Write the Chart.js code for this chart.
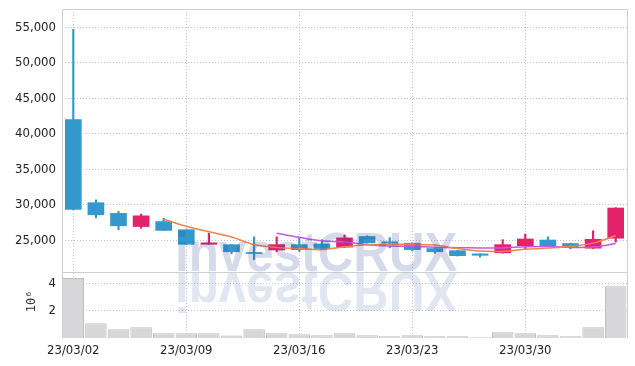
<!DOCTYPE html>
<html><head><meta charset="utf-8">
<script src="https://cdn.jsdelivr.net/npm/chart.js@4"></script>
<style>html,body{margin:0;padding:0;background:#fff}#wrap{width:635px;height:366px}</style>
</head><body><div id="wrap"><canvas id="c" width="635" height="366"></canvas></div>
<script>
const dates = ['23/03/02','23/03/03','23/03/06','23/03/07','23/03/08','23/03/09','23/03/10','23/03/13','23/03/14','23/03/15','23/03/16','23/03/17','23/03/20','23/03/21','23/03/22','23/03/23','23/03/24','23/03/27','23/03/28','23/03/29','23/03/30','23/03/31','23/04/03','23/04/04','23/04/05'];
const openP  = [42000,30300,28800,26950,27650,26500,24450,24400,23300,23650,24400,24500,24050,25550,24800,24600,23850,23550,23100,23250,24250,25050,24550,23900,25300];
const highP  = [54700,30700,29100,28700,28100,26500,26000,24400,25500,25500,25350,25100,25750,25650,25400,24650,23900,23600,23100,25100,25900,25500,24600,26350,29600];
const lowP   = [29300,28150,26500,26700,26400,24400,24450,23100,22300,23400,23450,23800,24000,24600,23950,23500,23150,22800,22650,23200,23800,24200,23800,23850,24750];
const closeP = [29350,28600,27050,28450,26400,24450,24650,23400,23150,24400,23700,23850,25350,24650,24600,23700,23400,22850,22900,24400,25200,24200,24100,25150,29550];
const volume = [4400000,1080000,640000,780000,340000,340000,340000,180000,640000,340000,270000,200000,340000,200000,120000,200000,120000,120000,50000,420000,340000,200000,120000,780000,3790000];
const ma5  = [null,null,null,null,27970,26990,26200,25470,24410,24010,23860,23700,24090,24390,24430,24430,24340,23840,23490,23450,23750,23910,24160,24610,25640];
const ma10 = [null,null,null,null,null,null,null,null,null,25990,25425,24950,24780,24400,24220,24145,24020,23965,23940,23940,24090,24125,24000,24050,24545];
const priceTicks = [25000,30000,35000,40000,45000,50000,55000];
const volTicks = [2000000,4000000];
const dateTicks = ['23/03/02','23/03/09','23/03/16','23/03/23','23/03/30'];

const UP = '#e3226c', DOWN = '#3399cc';
const dirColors = closeP.map((c,i)=> c >= openP[i] ? UP : DOWN);
const tickFont = {family:"'DejaVu Sans Condensed','Liberation Sans Narrow','DejaVu Sans',sans-serif", size:13};
const gridCol = 'rgba(185,188,215,0.9)';

const frame = {
  id:'frame',
  beforeDatasetsDraw(chart){
    const {ctx, chartArea:a} = chart;
    const yv = chart.scales.yVol;
    ctx.save();
    ctx.strokeStyle = '#cfcfcf';
    ctx.lineWidth = 1;
    ctx.beginPath();
    ctx.moveTo(Math.round(a.left)+0.5, Math.round(a.bottom)+0.5);
    ctx.lineTo(Math.round(a.left)+0.5, Math.round(a.top)+0.5);
    ctx.lineTo(Math.round(a.right)+0.5, Math.round(a.top)+0.5);
    ctx.lineTo(Math.round(a.right)+0.5, Math.round(a.bottom)+0.5);
    ctx.moveTo(a.left, Math.round(yv.top)+0.5);
    ctx.lineTo(a.right, Math.round(yv.top)+0.5);
    ctx.stroke();
    ctx.restore();
  }
};
const watermark = {
  id:'wm',
  afterDatasetsDraw(chart){
    const {ctx, chartArea:a} = chart;
    const w = a.right - a.left;
    const base = chart.scales.y.bottom - 1;
    const xL = a.left + 0.2*w;
    const txt = 'investCRUX';
    ctx.save();
    ctx.font = 'bold 56px "Liberation Sans", Arial, sans-serif';
    ctx.textBaseline = 'alphabetic';
    const m = ctx.measureText(txt);
    ctx.translate(xL, base);
    ctx.scale((0.5*w)/m.width, 1);
    ctx.fillStyle = 'rgba(30,60,150,0.19)';
    ctx.fillText(txt, 0, 0);
    ctx.scale(1, -1);
    ctx.fillStyle = 'rgba(30,60,150,0.13)';
    ctx.fillText(txt, 0, -2);
    ctx.restore();
  }
};

new Chart(document.getElementById('c'), {
  type:'bar',
  data:{
    labels: dates,
    datasets:[
      {type:'line', data:ma5, yAxisID:'y', borderColor:'#f0834a', borderWidth:1.5, pointRadius:0, tension:0.35, fill:false},
      {type:'line', data:ma10, yAxisID:'y', borderColor:'#c955e8', borderWidth:1.5, pointRadius:0, tension:0.35, fill:false},
      {data: dates.map((d,i)=>[openP[i], closeP[i]]), yAxisID:'y', backgroundColor:dirColors, barThickness:16, grouped:false, borderWidth:0},
      {data: dates.map((d,i)=>[lowP[i], highP[i]]), yAxisID:'y', backgroundColor:dirColors, barThickness:1.5, grouped:false, borderWidth:0},
      {data: volume, yAxisID:'yVol', backgroundColor:'#d7d7d9', borderColor:'#bdbdbd', borderWidth:1, barPercentage:1, categoryPercentage:0.95, grouped:false}
    ]
  },
  options:{
    responsive:false, animation:false, devicePixelRatio:1,
    layout:{padding:{top:9, right:8, left:0, bottom:0}},
    plugins:{legend:{display:false}, tooltip:{enabled:false}},
    scales:{
      x:{
        type:'category', offset:true,
        grid:{offset:false, color:gridCol, drawTicks:false},
        border:{display:false, dash:[1,2]},
        ticks:{autoSkip:false, maxRotation:0, padding:5, font:tickFont, color:'#222',
          callback(v){ const l = this.getLabelForValue(v); return dateTicks.includes(l) ? l : null; }},
        afterFit(s){ s.height = 28; s.paddingLeft = 0; s.paddingRight = 0; }
      },
      yVol:{
        position:'left', stack:'p', stackWeight:66, min:0, max:4830000,
        afterBuildTicks(s){ s.ticks = volTicks.map(v=>({value:v})); },
        ticks:{padding:6, font:tickFont, color:'#222', callback:v=>String(v/1000000)},
        grid:{color:gridCol, drawTicks:false},
        border:{display:false, dash:[1,2]},
        title:{display:true, text:' 10\u2076', font:{family:"'DejaVu Sans Mono',monospace", size:12}, color:'#333', padding:{top:25, bottom:0}},
        afterFit(s){ s.width = 62; s.paddingTop = 0; s.paddingBottom = 0; }
      },
      y:{
        position:'left', stack:'p', stackWeight:263, min:20550, max:57550,
        afterBuildTicks(s){ s.ticks = priceTicks.map(v=>({value:v})); },
        ticks:{padding:6, font:tickFont, color:'#222', callback:v=>v.toLocaleString('en-US')},
        grid:{color:gridCol, drawTicks:false},
        border:{display:false, dash:[1,2]},
        afterFit(s){ s.width = 62; s.paddingTop = 0; s.paddingBottom = 0; }
      }
    }
  },
  plugins:[frame, watermark]
});
</script></body></html>
